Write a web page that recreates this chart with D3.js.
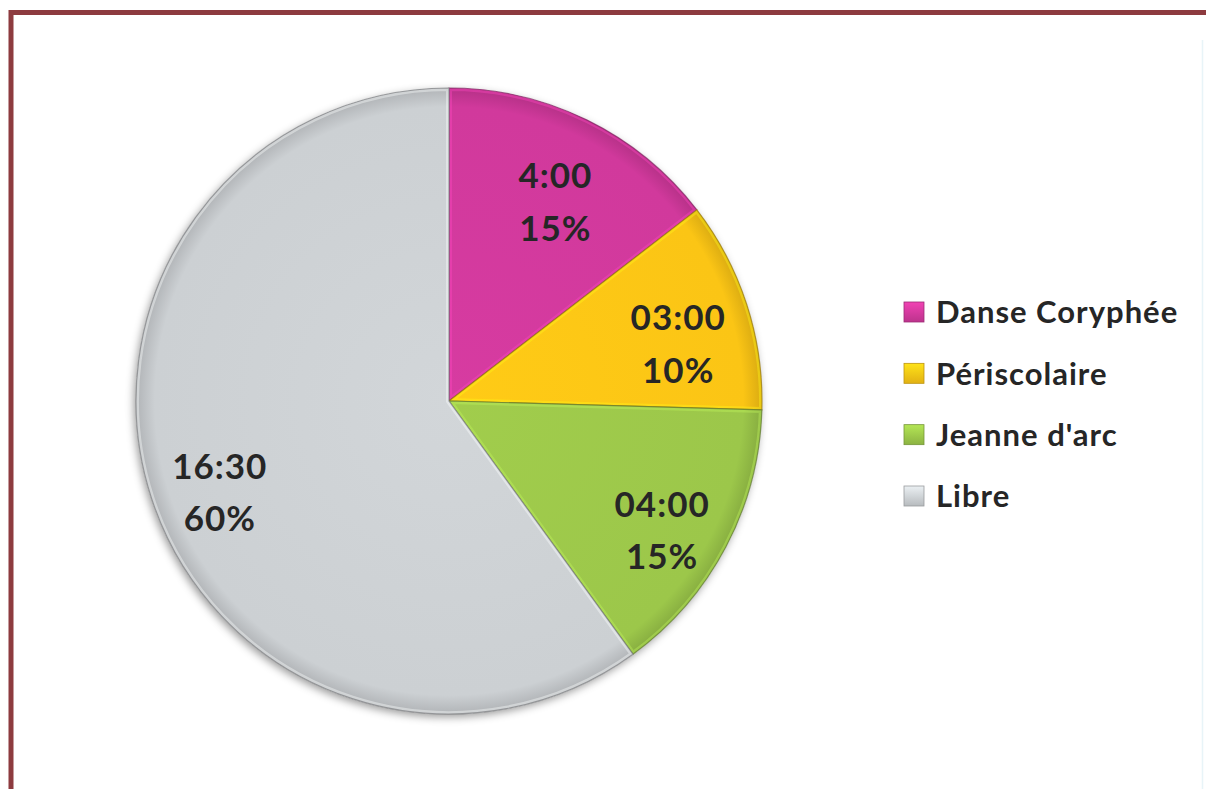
<!DOCTYPE html>
<html>
<head>
<meta charset="utf-8">
<script src="https://cdn.jsdelivr.net/npm/d3@7"></script>
<style>
  html, body { margin: 0; padding: 0; background: #fff; }
  svg { display: block; }
  text { font-family: Lato, "Open Sans", sans-serif; font-weight: bold; fill: #262626; }
</style>
</head>
<body>
<svg id="chart" width="1206" height="789"></svg>
<script>
  // chart data
  const categories = ['Danse Coryphée', 'Périscolaire', "Jeanne d'arc", 'Libre'];
  const hours = [4, 3, 4, 16.5];
  const timeLabels = ['4:00', '03:00', '04:00', '16:30'];
  const pctLabels = ['15%', '10%', '15%', '60%'];
  const colors = ['#d1399c', '#fbc515', '#9cc74a', '#ccd0d3'];

  const svg = d3.select('#chart');
  const width = +svg.attr('width');
  const height = +svg.attr('height');

  const cx = 449, cy = 401, radius = 313;

  const defs = svg.append('defs');

  const shadow = defs.append('filter')
    .attr('id', 'shadow')
    .attr('x', '-10%').attr('y', '-10%')
    .attr('width', '120%').attr('height', '120%');
  shadow.append('feDropShadow')
    .attr('dx', -2).attr('dy', 3)
    .attr('stdDeviation', 4)
    .attr('flood-color', '#000')
    .attr('flood-opacity', 0.4);

  // gradient per slice: a bit brighter inside, darker at the rim
  colors.forEach((c, i) => {
    const g = defs.append('radialGradient')
      .attr('id', 'grad' + i)
      .attr('gradientUnits', 'userSpaceOnUse')
      .attr('cx', 0).attr('cy', 0).attr('r', radius);
    g.append('stop').attr('offset', '0%').attr('stop-color', d3.color(c).brighter(0.08));
    g.append('stop').attr('offset', '94%').attr('stop-color', c);
    g.append('stop').attr('offset', '100%').attr('stop-color', d3.color(c).darker(0.4));
  });

  // frame
  svg.append('rect')
    .attr('x', 11).attr('y', 12.5)
    .attr('width', width + 20).attr('height', height + 20)
    .attr('fill', 'none')
    .attr('stroke', '#8d3b3f')
    .attr('stroke-width', 5);
  svg.append('line')
    .attr('x1', 1202.5).attr('x2', 1202.5)
    .attr('y1', 40).attr('y2', height)
    .attr('stroke', '#e8f4f8').attr('stroke-width', 1.5);

  const slices = categories.map((name, i) => ({
    name, value: hours[i], time: timeLabels[i], pct: pctLabels[i], color: colors[i], idx: i
  }));

  const pie = d3.pie().sort(null).value(d => d.value);
  const arcs = pie(slices);

  const arc = d3.arc().innerRadius(0).outerRadius(radius);
  const labelArc = d3.arc().innerRadius(radius * 0.77).outerRadius(radius * 0.77);

  const g = svg.append('g').attr('transform', `translate(${cx},${cy})`);

  g.append('circle')
    .attr('r', radius)
    .attr('fill', '#ccd0d3')
    .attr('filter', 'url(#shadow)');

  arcs.forEach((a, i) => {
    defs.append('clipPath').attr('id', 'clip' + i)
      .append('path').attr('d', arc(a));
  });

  const sliceG = g.selectAll('g.slice').data(arcs).enter().append('g')
    .attr('class', 'slice');

  sliceG.append('path')
    .attr('d', arc)
    .attr('fill', d => `url(#grad${d.data.idx})`);

  // inner bevel highlight along the slice edges
  sliceG.append('path')
    .attr('d', arc)
    .attr('fill', 'none')
    .attr('stroke', d => d3.color(d.data.color).brighter(0.6))
    .attr('stroke-opacity', 0.4)
    .attr('stroke-width', 6)
    .attr('clip-path', d => `url(#clip${d.data.idx})`);

  sliceG.append('path')
    .attr('d', arc)
    .attr('fill', 'none')
    .attr('stroke', d => d3.color(d.data.color).darker(1.4))
    .attr('stroke-opacity', 0.7)
    .attr('stroke-width', 1.2);

  const labels = g.selectAll('text.lbl').data(arcs).enter().append('text')
    .attr('class', 'lbl')
    .attr('text-anchor', 'middle')
    .attr('font-size', 35)
    .attr('letter-spacing', 1)
    .attr('transform', d => `translate(${labelArc.centroid(d)})`);
  labels.append('tspan').attr('x', 0).attr('dy', '0.1em').text(d => d.data.time);
  labels.append('tspan').attr('x', 0).attr('dy', '1.5em').text(d => d.data.pct);

  // legend
  const legendY = d3.scalePoint().domain(categories).range([312, 496]);
  const legend = svg.append('g').selectAll('g').data(slices).enter().append('g')
    .attr('transform', d => `translate(904,${legendY(d.name)})`);

  colors.forEach((c, i) => {
    const lg = defs.append('linearGradient').attr('id', 'lg' + i)
      .attr('x1', 0).attr('y1', 0).attr('x2', 0).attr('y2', 1);
    lg.append('stop').attr('offset', '0%').attr('stop-color', d3.color(c).brighter(0.4));
    lg.append('stop').attr('offset', '100%').attr('stop-color', d3.color(c).darker(0.3));
  });

  legend.append('rect')
    .attr('x', 0).attr('y', -10)
    .attr('width', 20).attr('height', 20)
    .attr('fill', d => `url(#lg${d.idx})`)
    .attr('stroke', d => d3.color(d.color).darker(0.8))
    .attr('stroke-width', 0.8);

  legend.append('text')
    .attr('x', 32)
    .attr('dy', '0.36em')
    .attr('font-size', 31)
    .attr('letter-spacing', 1)
    .text(d => d.name);
</script>
</body>
</html>
